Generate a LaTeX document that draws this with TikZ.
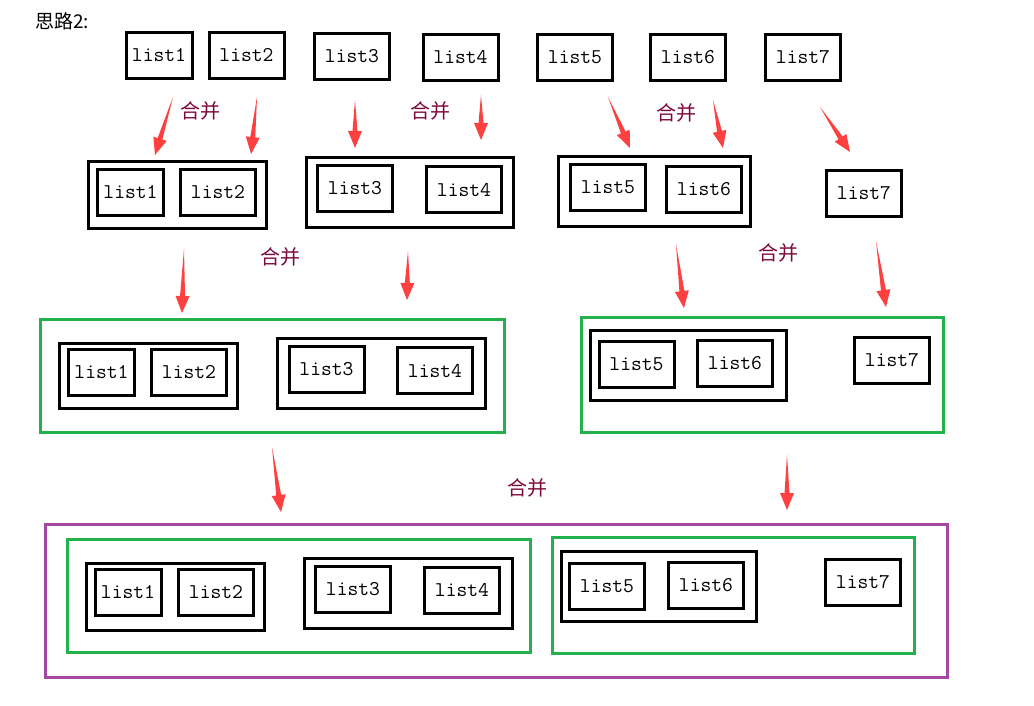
\documentclass[tikz,border=0pt]{standalone}
\usepackage{fontspec}
\newfontfamily\cjk{Noto Sans CJK SC}
\usepackage{tikz}
\usetikzlibrary{calc}
\definecolor{arrowred}{RGB}{255,64,64}
\definecolor{lblred}{RGB}{125,10,60}
\definecolor{grn}{RGB}{34,177,76}
\definecolor{prp}{RGB}{163,73,164}
\tikzset{
  lst/.style     = {draw, line width=3pt, minimum width=75, minimum height=46,
                    inner sep=0pt, font=\fontsize{21}{24}\ttfamily},
  lstone/.style  = {lst, minimum width=66},
  grp/.style     = {draw, line width=3pt, inner sep=0pt},
  grnbox/.style  = {draw=grn, line width=3pt, inner sep=0pt},
  prpbox/.style  = {draw=prp, line width=3pt, inner sep=0pt},
  merge/.style   = {font=\fontsize{20}{22}\cjk, text=lblred, inner sep=1pt},
}
% red block arrow from #1 to #2 (thin tail, wide head)
\newcommand\mergearrow[2]{%
  \path (#2) coordinate (mtip) ($(#2)!17pt!(#1)$) coordinate (mneck);
  \fill[arrowred] (#1) -- ($(mneck)!2.5pt!90:(mtip)$) -- ($(mneck)!7pt!90:(mtip)$)
    -- (mtip) -- ($(mneck)!7pt!-90:(mtip)$) -- ($(mneck)!2.5pt!-90:(mtip)$) -- cycle;}

\begin{document}
\begin{tikzpicture}[x=1pt, y=-1pt]
  \useasboundingbox (0,0) rectangle (1034,705);

  \node[font=\fontsize{19}{20}\cjk] (title) at (62,21) {思路2:};

  % Top row: single lists
  \node[lstone] (a1) at (159,55)   {list1};
  \node[lst]    (a2) at (246.5,55) {list2};
  \node[lst]    (a3) at (352,56)   {list3};
  \node[lst]    (a4) at (460.5,57) {list4};
  \node[lst]    (a5) at (575,57)   {list5};
  \node[lst]    (a6) at (688,57)   {list6};
  \node[lst]    (a7) at (803,57)   {list7};

  % Second row: pairs
  \node[grp, minimum width=178, minimum height=67] (b12) at (177.5,195) {};
  \node[lstone] (b1) at (130.5,192) {list1};
  \node[lst]    (b2) at (218,192)   {list2};
  \node[grp, minimum width=207, minimum height=70] (b34) at (410,192.5) {};
  \node[lst]    (b3) at (355,188)   {list3};
  \node[lst]    (b4) at (464,189.5) {list4};
  \node[grp, minimum width=192, minimum height=70] (b56) at (654.5,191.5) {};
  \node[lst]    (b5) at (608,187.5) {list5};
  \node[lst]    (b6) at (704,189)   {list6};
  \node[lst]    (b7) at (864,193)   {list7};

  % Third row: green groups
  \node[grnbox, minimum width=464, minimum height=113] (cg1) at (272.5,376) {};
  \node[grp, minimum width=178, minimum height=65] (c12) at (148.5,376) {};
  \node[lstone] (c1) at (101.5,372) {list1};
  \node[lst]    (c2) at (189,372.5) {list2};
  \node[grp, minimum width=208, minimum height=70] (c34) at (381.5,373.5) {};
  \node[lst]    (c3) at (326.5,369) {list3};
  \node[lst]    (c4) at (435,370.5) {list4};
  \node[grnbox, minimum width=362, minimum height=115] (cg2) at (762.5,375) {};
  \node[grp, minimum width=196, minimum height=70] (c56) at (688.5,365.5) {};
  \node[lst]    (c5) at (636.5,364.5) {list5};
  \node[lst]    (c6) at (735,363.5)   {list6};
  \node[lst]    (c7) at (892,360.5)   {list7};

  % Bottom row: everything merged
  \node[prpbox, minimum width=902, minimum height=153] (dall) at (496.5,601) {};
  \node[grnbox, minimum width=463, minimum height=113] (dg1) at (299,596) {};
  \node[grp, minimum width=178, minimum height=67] (d12) at (175.5,597) {};
  \node[lstone] (d1) at (128,592)   {list1};
  \node[lst]    (d2) at (216,592.5) {list2};
  \node[grp, minimum width=208, minimum height=70] (d34) at (408.5,593.5) {};
  \node[lst]    (d3) at (353,589)   {list3};
  \node[lst]    (d4) at (462,590)   {list4};
  \node[grnbox, minimum width=362, minimum height=116] (dg2) at (733.5,595.5) {};
  \node[grp, minimum width=195, minimum height=70] (d56) at (659,586.5) {};
  \node[lst]    (d5) at (607,586)   {list5};
  \node[lst]    (d6) at (706,585)   {list6};
  \node[lst]    (d7) at (863,582)   {list7};

  % Merge labels
  \node[merge] (m1) at (200,111) {合并};
  \node[merge] (m2) at (430,111) {合并};
  \node[merge] (m3) at (676,113) {合并};
  \node[merge] (m4) at (280,257) {合并};
  \node[merge] (m5) at (778,253) {合并};
  \node[merge] (m6) at (527,488) {合并};

  % Arrows
  \foreach \n/\sx/\sy/\ex/\ey in {1/173/97/155/155, 2/257/97/251/154,
      3/355/100/355/148, 4/481/95/481/140, 5/608/97/630/148,
      6/713/100/723/148, 7/820/107/850/152, 8/184/249/182/313,
      9/408/251/407/300, 10/676/244/684/308, 11/876/241/886/307,
      12/272/447/281/512, 13/787/455/787/510}{
    \coordinate (s\n) at (\sx,\sy);
    \coordinate (e\n) at (\ex,\ey);
    \mergearrow{s\n}{e\n}
  }
\end{tikzpicture}
\end{document}
